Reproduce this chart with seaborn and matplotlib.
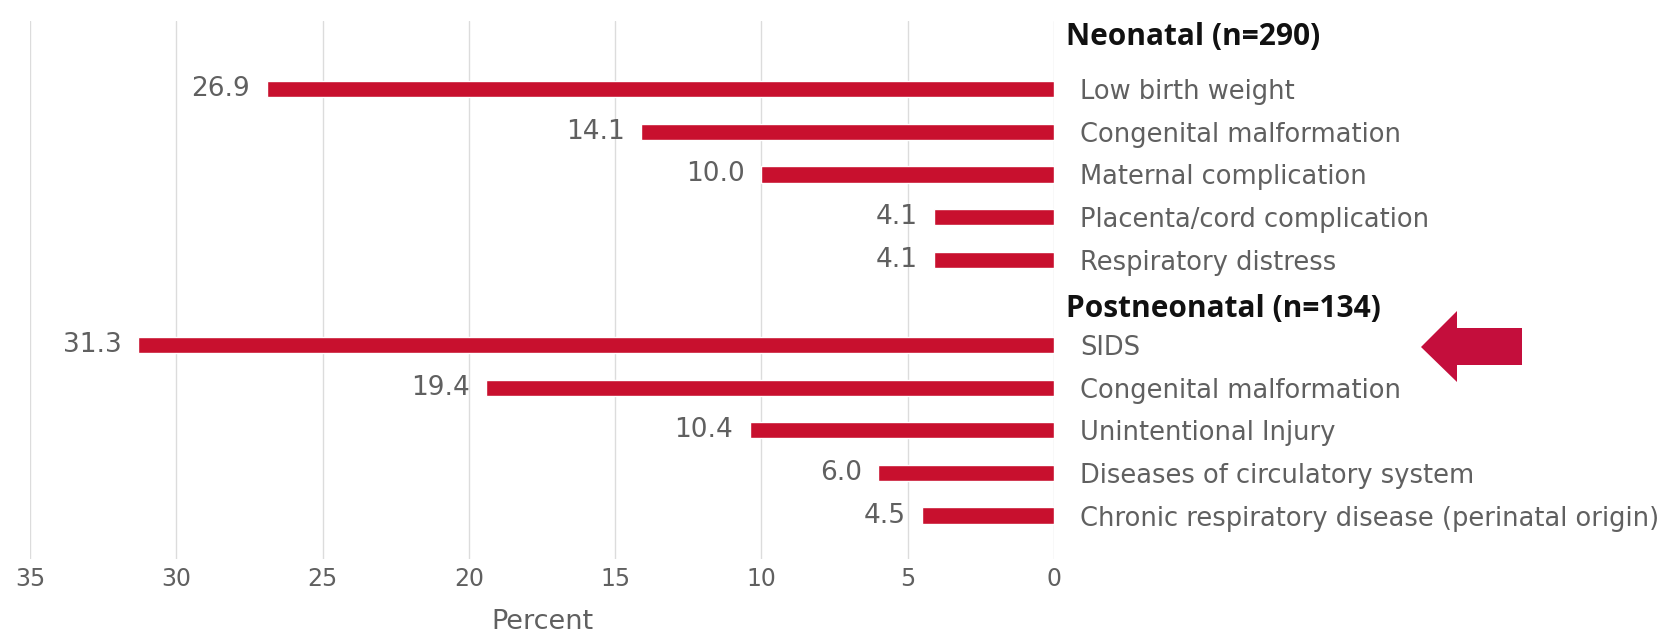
import numpy as np
import pandas as pd
import matplotlib
matplotlib.use("Agg")
import matplotlib.pyplot as plt
from matplotlib.patches import Polygon
import seaborn as sns

# Leading causes of infant death, percent of deaths in each age group
neonatal_causes = ["Low birth weight", "Congenital malformation", "Maternal complication",
                   "Placenta/cord complication", "Respiratory distress"]
neonatal_pct = [26.9, 14.1, 10.0, 4.1, 4.1]

postneonatal_causes = ["SIDS", "Congenital malformation", "Unintentional Injury",
                       "Diseases of circulatory system",
                       "Chronic respiratory disease (perinatal origin)"]
postneonatal_pct = [31.3, 19.4, 10.4, 6.0, 4.5]

group_titles = ["Neonatal (n=290)", "Postneonatal (n=134)"]
x_ticks = [35, 30, 25, 20, 15, 10, 5, 0]

BAR = "#c8102e"
TXT = "#606060"

sns.set_theme(style="white")
plt.rcParams["font.family"] = ["DejaVu Sans"]

rows = []
for grp, causes, pcts in (("neo", neonatal_causes, neonatal_pct),
                          ("post", postneonatal_causes, postneonatal_pct)):
    for c, p in zip(causes, pcts):
        rows.append({"key": f"{grp}|{c}", "cause": c, "pct": p})
df = pd.DataFrame(rows)

order = (["neo|__title"] + [f"neo|{c}" for c in neonatal_causes]
         + ["post|__title"] + [f"post|{c}" for c in postneonatal_causes])

W, H = 1669, 637
fig = plt.figure(figsize=(W / 100, H / 100), dpi=100)
ax = fig.add_axes([30 / W, 1 - 559 / H, (1054 - 30) / W, (559 - 21) / H])

sns.barplot(data=df, x="pct", y="key", order=order, color=BAR, width=0.38,
            saturation=1, ax=ax, orient="h")

ax.set_xlim(35, 0)
ax.set_ylim(12.02, -0.6)

ax.set_xticks(x_ticks)
ax.set_xticklabels([str(t) for t in x_ticks], color=TXT, fontsize=17)
ax.tick_params(axis="x", length=0, pad=6)
ax.grid(axis="x", color="#dcdcdc", linewidth=1.0)
ax.set_axisbelow(True)
for s in ax.spines.values():
    s.set_visible(False)

# cause labels on the right of the zero line
ax.yaxis.tick_right()
ylabels = [("" if k.endswith("__title") else k.split("|", 1)[1]) for k in order]
ax.set_yticks(range(len(order)))
ax.set_yticklabels(ylabels, color=TXT, fontsize=18.5)
ax.tick_params(axis="y", length=0, pad=19)
ax.set_ylabel("")

ax.set_xlabel("Percent", color=TXT, fontsize=19.5, labelpad=13)

# value labels at the end of each bar
for i, k in enumerate(order):
    sub = df[df["key"] == k]
    if sub.empty:
        continue
    v = sub["pct"].iloc[0]
    ax.annotate(f"{v:.1f}", xy=(v, i), xytext=(-12, 0), textcoords="offset points",
                ha="right", va="center", color=TXT, fontsize=19)

# group headings
title_pos = [order.index("neo|__title") - 0.22, order.index("post|__title") + 0.15]
for t, y in zip(group_titles, title_pos):
    ax.annotate(t, xy=(0, y), xytext=(9, 0), textcoords="offset points",
                ha="left", va="center", fontsize=21.5, fontweight="bold",
                color="#111111", family="Open Sans", annotation_clip=False)

# pointer arrow next to SIDS
pts_px = [(1421, 347), (1457, 311), (1457, 328), (1522, 328),
          (1522, 365), (1457, 365), (1457, 382)]
arrow = Polygon([(x / W, 1 - y / H) for x, y in pts_px], closed=True,
                transform=fig.transFigure, facecolor="#c40e3c", edgecolor="none")
fig.patches.append(arrow)

fig.savefig("out.png", dpi=100)
